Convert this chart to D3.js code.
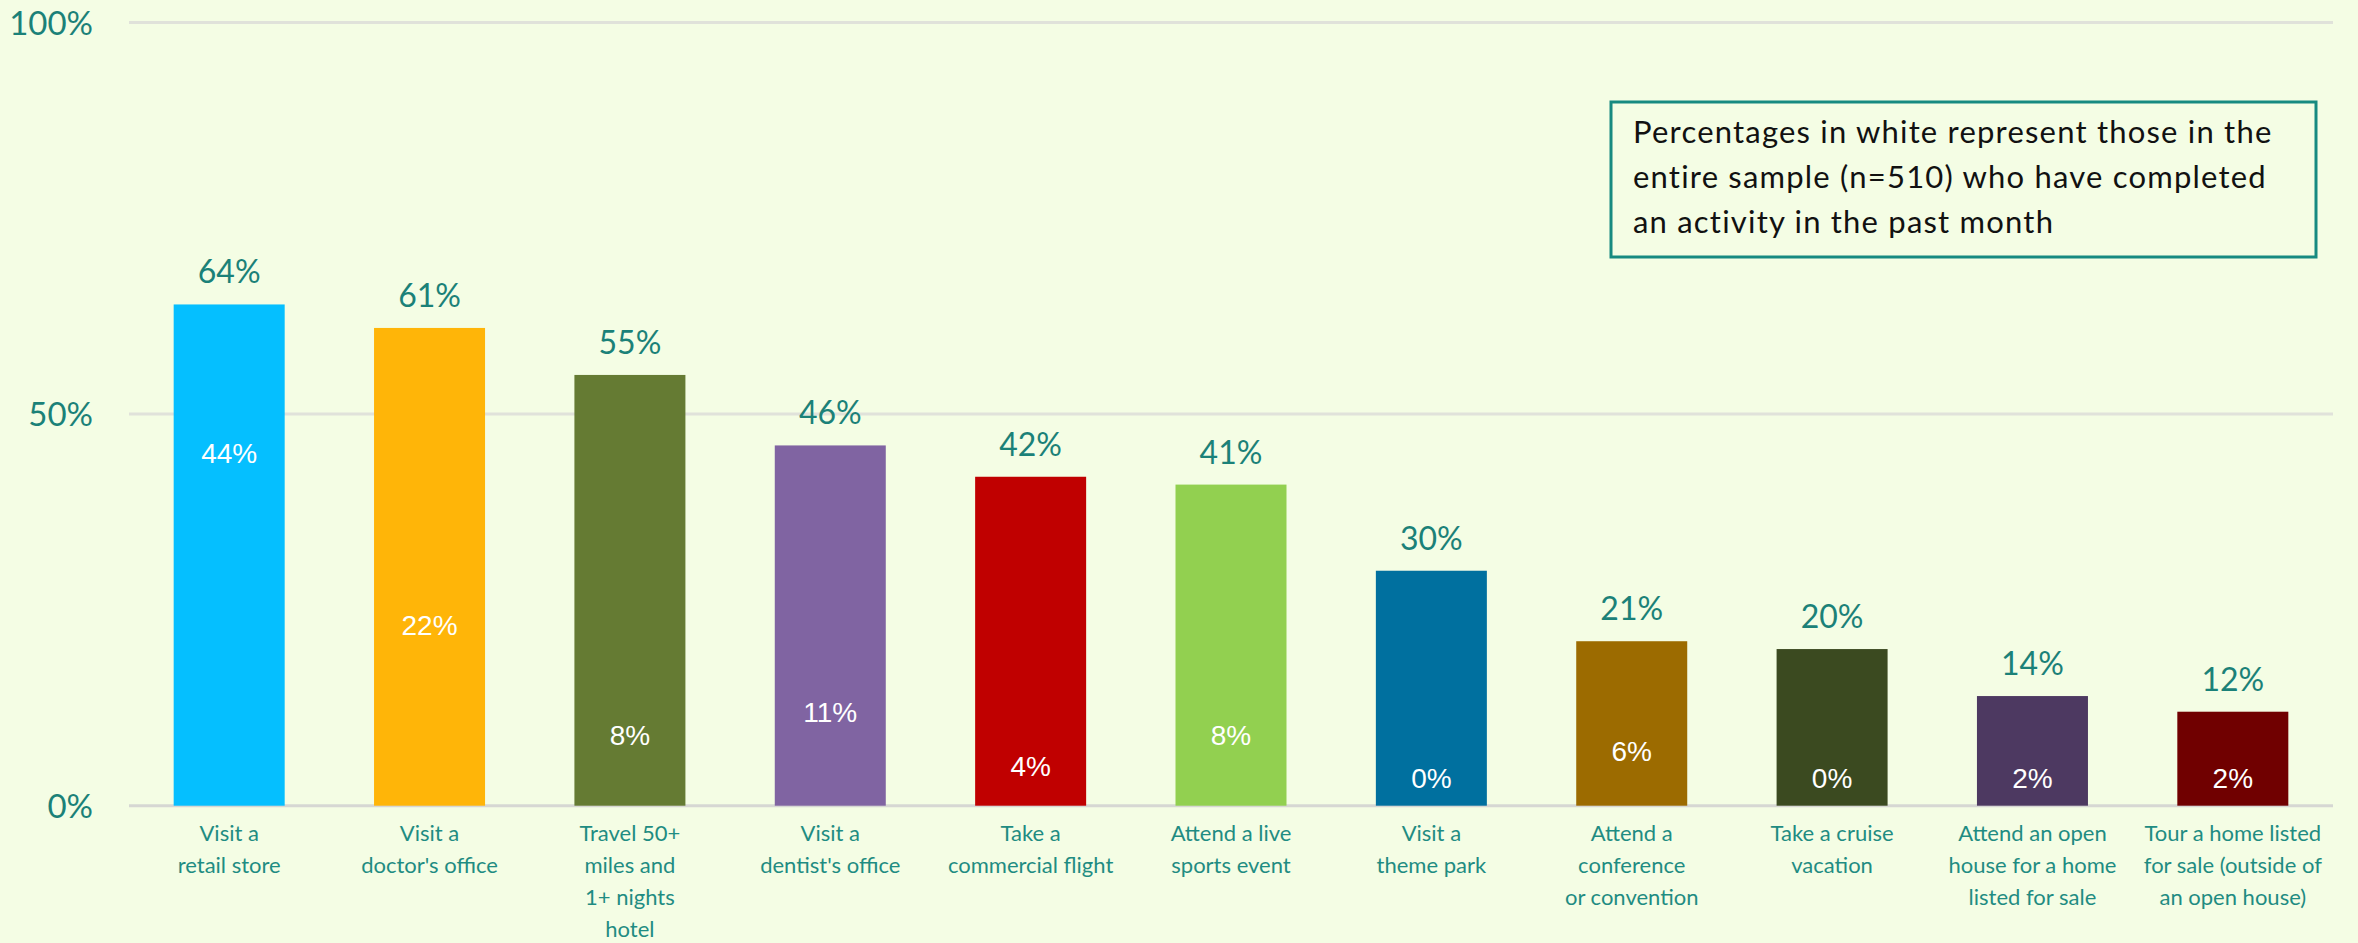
<!DOCTYPE html>
<html>
<head>
<meta charset="utf-8">
<script src="https://cdn.jsdelivr.net/npm/d3@7"></script>
<style>
  html, body { margin: 0; padding: 0; background: #F4FDE4; }
  svg { display: block; }
</style>
</head>
<body>
<svg id="chart" width="2358" height="943"></svg>
<script>
// Activities completed in the past month
const categories = [
  ["Visit a", "retail store"],
  ["Visit a", "doctor's office"],
  ["Travel 50+", "miles and", "1+ nights", "hotel"],
  ["Visit a", "dentist's office"],
  ["Take a", "commercial flight"],
  ["Attend a live", "sports event"],
  ["Visit a", "theme park"],
  ["Attend a", "conference", "or convention"],
  ["Take a cruise", "vacation"],
  ["Attend an open", "house for a home", "listed for sale"],
  ["Tour a home listed", "for sale (outside of", "an open house)"]
];
// Share among respondents in the subgroup (bar heights)
const subgroupPct = [64, 61, 55, 46, 42, 41, 30, 21, 20, 14, 12];
// Share among the entire sample, n=510 (white labels)
const samplePct = [44, 22, 8, 11, 4, 8, 0, 6, 0, 2, 2];
const barColors = ["#05BFFF", "#FFB508", "#657B33", "#8064A2", "#C00000", "#92D050",
                   "#00709F", "#9C6B00", "#3B4A20", "#4D3961", "#700000"];
const yTicks = [0, 50, 100];
const noteLines = [
  "Percentages in white represent those in the",
  "entire sample (n=510) who have completed",
  "an activity in the past month"
];

const teal = "#1B8178";
const svg = d3.select("#chart");

const x = d3.scaleBand()
  .domain(d3.range(categories.length))
  .range([129, 2333])
  .paddingInner(0.446)
  .paddingOuter(0.223);

const y = d3.scaleLinear().domain([0, 100]).range([805.7, 22.5]);

// gridlines (the 0% line doubles as the category axis)
svg.append("g")
  .selectAll("line")
  .data(yTicks)
  .join("line")
  .attr("x1", 129).attr("x2", 2333)
  .attr("y1", d => y(d)).attr("y2", d => y(d))
  .attr("stroke", d => d === 0 ? "#D6D7D3" : "#E0E2DA")
  .attr("stroke-width", 3);

// y axis tick labels
const yAxis = svg.append("g")
  .attr("transform", "translate(93,0)")
  .call(d3.axisLeft(y).tickValues(yTicks).tickSize(0).tickPadding(0).tickFormat(d => d + "%"));
yAxis.select(".domain").remove();
yAxis.selectAll("text")
  .attr("fill", teal)
  .attr("font-family", "Lato")
  .attr("font-size", 33)
  .attr("dy", "0.36em");

// bars
svg.append("g")
  .selectAll("rect")
  .data(subgroupPct)
  .join("rect")
  .attr("x", (d, i) => x(i))
  .attr("width", x.bandwidth())
  .attr("y", d => y(d))
  .attr("height", d => y(0) - y(d))
  .attr("fill", (d, i) => barColors[i]);

// value labels above bars
svg.append("g")
  .selectAll("text")
  .data(subgroupPct)
  .join("text")
  .attr("x", (d, i) => x(i) + x.bandwidth() / 2)
  .attr("y", d => y(d) - 21)
  .attr("text-anchor", "middle")
  .attr("fill", teal)
  .attr("font-family", "Lato")
  .attr("font-size", 32)
  .text(d => d + "%");

// entire-sample labels inside bars
svg.append("g")
  .selectAll("text")
  .data(samplePct)
  .join("text")
  .attr("x", (d, i) => x(i) + x.bandwidth() / 2)
  .attr("y", d => Math.min(y(d) - 8, y(0) - 28))
  .attr("dy", "0.36em")
  .attr("text-anchor", "middle")
  .attr("fill", "#FFFFFF")
  .attr("font-family", "Liberation Sans")
  .attr("font-size", 28)
  .text(d => d + "%");

// category labels
const cat = svg.append("g")
  .selectAll("text")
  .data(categories)
  .join("text")
  .attr("x", (d, i) => x(i) + x.bandwidth() / 2)
  .attr("y", 841)
  .attr("text-anchor", "middle")
  .attr("fill", "#1F8C82")
  .attr("font-family", "Lato")
  .attr("font-size", 22);
cat.selectAll("tspan")
  .data((d, i) => d.map(t => ({ t, cx: x(i) + x.bandwidth() / 2 })))
  .join("tspan")
  .attr("x", d => d.cx)
  .attr("dy", (d, j) => j === 0 ? 0 : 32)
  .text(d => d.t);

// note box
const note = svg.append("g");
note.append("rect")
  .attr("x", 1611).attr("y", 102)
  .attr("width", 705).attr("height", 155)
  .attr("fill", "none")
  .attr("stroke", "#178A80")
  .attr("stroke-width", 3);
note.selectAll("text")
  .data(noteLines)
  .join("text")
  .attr("x", 1633)
  .attr("y", (d, i) => 143 + i * 45)
  .attr("fill", "#111111")
  .attr("font-family", "Lato")
  .attr("font-size", 31)
  .attr("letter-spacing", 1.2)
  .text(d => d);
</script>
</body>
</html>
